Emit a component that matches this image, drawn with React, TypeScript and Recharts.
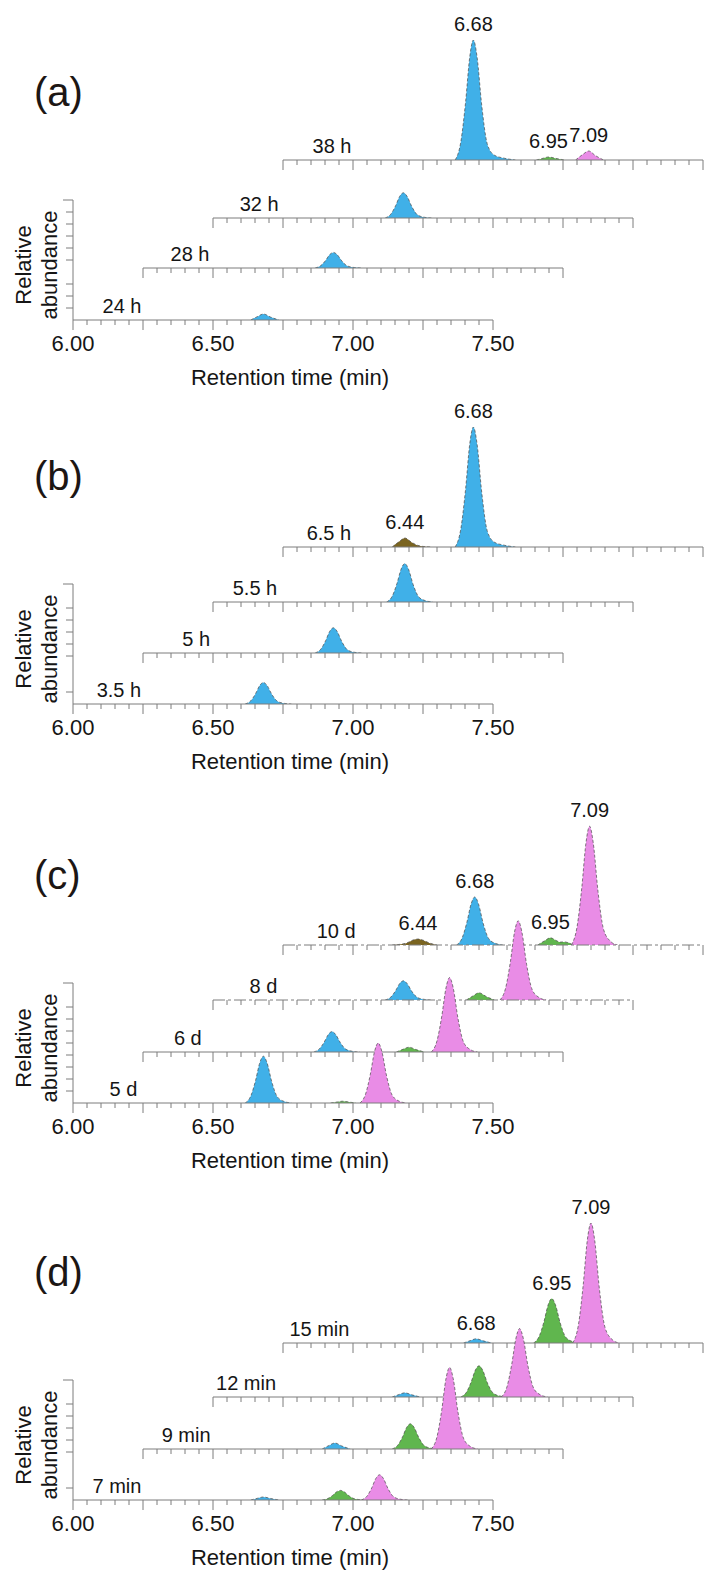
import React from 'react';
import { ComposedChart, Area, XAxis, YAxis, ReferenceDot, Label } from 'recharts';

type Pt = [number, number];

// ---------- axis ticks (retention time, min) ----------
const X_TICKS = [6.0, 6.05, 6.1, 6.15, 6.2, 6.25, 6.3, 6.35, 6.4, 6.45, 6.5, 6.55, 6.6, 6.65, 6.7, 6.75, 6.8, 6.85, 6.9, 6.95, 7.0, 7.05, 7.1, 7.15, 7.2, 7.25, 7.3, 7.35, 7.4, 7.45, 7.5];
const X_MAJOR_TICKS = [6.0, 6.25, 6.5, 6.75, 7.0, 7.25, 7.5];
const X_LABEL_TICKS = [6.0, 6.5, 7.0, 7.5];

// ---------- compounds ----------
const COMPOUNDS = ['6.44', '6.68', '6.95', '7.09'];
const COMPOUND_COLORS = ['#7a6420', '#40b0e8', '#60b64e', '#e98ce6'];

// ---------- panel (a) ----------
const A_TRACES = ['24 h', '28 h', '32 h', '38 h'];
const A_24H_BLUE: Pt[] = [[6.635, 0], [6.66, 3], [6.68, 5], [6.705, 2.5], [6.735, 0]];
const A_28H_BLUE: Pt[] = [[6.615, 0], [6.635, 2], [6.652, 6.2], [6.667, 11.2], [6.68, 13], [6.693, 11.2], [6.71, 5.9], [6.73, 1.7], [6.755, 0.4], [6.78, 0]];
const A_32H_BLUE: Pt[] = [[6.615, 0], [6.635, 3.2], [6.652, 10.1], [6.667, 18.1], [6.68, 21], [6.693, 18.1], [6.71, 9.5], [6.73, 2.7], [6.755, 0.6], [6.78, 0]];
const A_38H_BLUE: Pt[] = [[6.615, 0], [6.635, 15], [6.652, 48], [6.667, 86], [6.68, 100], [6.693, 86], [6.71, 45], [6.73, 13], [6.755, 4], [6.79, 1.5], [6.83, 0]];
const A_38H_GREEN: Pt[] = [[6.905, 0], [6.93, 1.5], [6.948, 2.5], [6.975, 1.3], [7.005, 0]];
const A_38H_PINK: Pt[] = [[7.045, 0], [7.07, 4.5], [7.092, 7.5], [7.115, 3.8], [7.145, 0]];

// ---------- panel (b) ----------
const B_TRACES = ['3.5 h', '5 h', '5.5 h', '6.5 h'];
const B_35H_BLUE: Pt[] = [[6.615, 0], [6.635, 2.7], [6.652, 8.6], [6.667, 15.5], [6.68, 18], [6.693, 15.5], [6.71, 8.1], [6.73, 2.3], [6.755, 0.5], [6.78, 0]];
const B_5H_BLUE: Pt[] = [[6.615, 0], [6.635, 3.2], [6.652, 10.1], [6.667, 18.1], [6.68, 21], [6.693, 18.1], [6.71, 9.5], [6.73, 2.7], [6.755, 0.6], [6.78, 0]];
const B_55H_BLUE: Pt[] = [[6.62, 0], [6.64, 4.8], [6.657, 15.4], [6.672, 27.5], [6.685, 32], [6.698, 27.5], [6.715, 14.4], [6.735, 4.2], [6.76, 1], [6.785, 0]];
const B_65H_BROWN: Pt[] = [[6.39, 0], [6.415, 4.5], [6.435, 7.5], [6.46, 3.8], [6.49, 0.8], [6.53, 0]];
const B_65H_BLUE: Pt[] = [[6.615, 0], [6.635, 15], [6.652, 48], [6.667, 86], [6.68, 100], [6.693, 86], [6.71, 45], [6.73, 13], [6.755, 4], [6.79, 1.5], [6.83, 0]];

// ---------- panel (c) ----------
const C_TRACES = ['5 d', '6 d', '8 d', '10 d'];
const C_5D_BLUE: Pt[] = [[6.615, 0], [6.635, 5.9], [6.652, 18.7], [6.667, 33.5], [6.68, 39], [6.693, 33.5], [6.71, 17.6], [6.73, 5.1], [6.755, 1.2], [6.78, 0]];
const C_5D_GREEN: Pt[] = [[6.92, 0], [6.945, 0.9], [6.962, 1.5], [6.985, 0.8], [7.01, 0]];
const C_5D_PINK: Pt[] = [[7.025, 0], [7.045, 7.5], [7.062, 24], [7.077, 43], [7.09, 50], [7.103, 43], [7.12, 22.5], [7.14, 6.5], [7.165, 1.5], [7.19, 0]];
const C_6D_BLUE: Pt[] = [[6.61, 0], [6.63, 2.6], [6.647, 8.2], [6.662, 14.6], [6.675, 17], [6.688, 14.6], [6.705, 7.7], [6.725, 2.2], [6.75, 0.5], [6.775, 0]];
const C_6D_GREEN: Pt[] = [[6.905, 0], [6.93, 2.4], [6.95, 4], [6.975, 2], [7.005, 0]];
const C_6D_PINK: Pt[] = [[7.03, 0], [7.05, 9.3], [7.067, 29.8], [7.082, 53.3], [7.095, 62], [7.108, 53.3], [7.125, 27.9], [7.145, 8.1], [7.17, 1.9], [7.195, 0]];
const C_8D_BLUE: Pt[] = [[6.615, 0], [6.635, 2.4], [6.652, 7.7], [6.667, 13.8], [6.68, 16], [6.693, 13.8], [6.71, 7.2], [6.73, 2.1], [6.755, 0.5], [6.78, 0]];
const C_8D_GREEN: Pt[] = [[6.905, 0], [6.93, 3.6], [6.95, 6], [6.975, 3], [7.005, 0]];
const C_8D_PINK: Pt[] = [[7.025, 0], [7.045, 9.9], [7.062, 31.7], [7.077, 56.8], [7.09, 66], [7.103, 56.8], [7.12, 29.7], [7.14, 8.6], [7.165, 2], [7.19, 0]];
const C_10D_BROWN: Pt[] = [[6.39, 0], [6.44, 1.5], [6.465, 4.2], [6.482, 5], [6.5, 4], [6.525, 1.5], [6.55, 0]];
const C_10D_BLUE: Pt[] = [[6.62, 0], [6.64, 6], [6.657, 19.2], [6.672, 34.4], [6.685, 40], [6.698, 34.4], [6.715, 18], [6.735, 5.2], [6.76, 1.2], [6.785, 0]];
const C_10D_GREEN: Pt[] = [[6.91, 0], [6.935, 3.6], [6.955, 6], [6.975, 3.8], [6.99, 2.4], [7.003, 2.6], [7.018, 2], [7.035, 0]];
const C_10D_PINK: Pt[] = [[7.03, 0], [7.05, 14.9], [7.067, 47.5], [7.082, 85.1], [7.095, 99], [7.108, 85.1], [7.125, 44.6], [7.145, 12.9], [7.17, 3], [7.195, 0]];

// ---------- panel (d) ----------
const D_TRACES = ['7 min', '9 min', '12 min', '15 min'];
const D_7_BLUE: Pt[] = [[6.635, 0], [6.66, 1.5], [6.68, 2.5], [6.705, 1.3], [6.735, 0]];
const D_7_GREEN: Pt[] = [[6.89, 0], [6.91, 1.2], [6.927, 3.8], [6.942, 6.9], [6.955, 8], [6.968, 6.9], [6.985, 3.6], [7.005, 1], [7.03, 0.2], [7.055, 0]];
const D_7_PINK: Pt[] = [[7.03, 0], [7.05, 3.2], [7.067, 10.1], [7.082, 18.1], [7.095, 21], [7.108, 18.1], [7.125, 9.5], [7.145, 2.7], [7.17, 0.6], [7.195, 0]];
const D_9_BLUE: Pt[] = [[6.64, 0], [6.665, 3], [6.685, 5], [6.71, 2.5], [6.74, 0]];
const D_9_GREEN: Pt[] = [[6.89, 0], [6.91, 3.2], [6.927, 10.1], [6.942, 18.1], [6.955, 21], [6.968, 18.1], [6.985, 9.5], [7.005, 2.7], [7.03, 0.6], [7.055, 0]];
const D_9_PINK: Pt[] = [[7.03, 0], [7.05, 10.2], [7.067, 32.6], [7.082, 58.5], [7.095, 68], [7.108, 58.5], [7.125, 30.6], [7.145, 8.8], [7.17, 2], [7.195, 0]];
const D_12_BLUE: Pt[] = [[6.64, 0], [6.665, 2.1], [6.685, 3.5], [6.71, 1.8], [6.74, 0]];
const D_12_GREEN: Pt[] = [[6.885, 0], [6.905, 3.9], [6.922, 12.5], [6.937, 22.4], [6.95, 26], [6.963, 22.4], [6.98, 11.7], [7.0, 3.4], [7.025, 0.8], [7.05, 0]];
const D_12_PINK: Pt[] = [[7.03, 0], [7.05, 8.6], [7.067, 27.4], [7.082, 49], [7.095, 57], [7.108, 49], [7.125, 25.7], [7.145, 7.4], [7.17, 1.7], [7.195, 0]];
const D_15_BLUE: Pt[] = [[6.645, 0], [6.67, 2.1], [6.69, 3.5], [6.715, 1.8], [6.745, 0]];
const D_15_GREEN: Pt[] = [[6.895, 0], [6.915, 5.6], [6.932, 17.8], [6.947, 31.8], [6.96, 37], [6.973, 31.8], [6.99, 16.7], [7.01, 4.8], [7.035, 1.1], [7.06, 0]];
const D_15_PINK: Pt[] = [[7.035, 0], [7.055, 15], [7.072, 48], [7.087, 86], [7.1, 100], [7.113, 86], [7.13, 45], [7.15, 13], [7.175, 3], [7.2, 0]];

// ---------- assembling (compound index, points, labelled) ----------
type Peak = { c: number; pts: Pt[]; labeled?: boolean };

const A_PEAKS: Peak[][] = [
  [{ c: 1, pts: A_24H_BLUE }],
  [{ c: 1, pts: A_28H_BLUE }],
  [{ c: 1, pts: A_32H_BLUE }],
  [{ c: 1, pts: A_38H_BLUE, labeled: true }, { c: 2, pts: A_38H_GREEN, labeled: true }, { c: 3, pts: A_38H_PINK, labeled: true }],
];
const B_PEAKS: Peak[][] = [
  [{ c: 1, pts: B_35H_BLUE }],
  [{ c: 1, pts: B_5H_BLUE }],
  [{ c: 1, pts: B_55H_BLUE }],
  [{ c: 0, pts: B_65H_BROWN, labeled: true }, { c: 1, pts: B_65H_BLUE, labeled: true }],
];
const C_PEAKS: Peak[][] = [
  [{ c: 1, pts: C_5D_BLUE }, { c: 2, pts: C_5D_GREEN }, { c: 3, pts: C_5D_PINK }],
  [{ c: 1, pts: C_6D_BLUE }, { c: 2, pts: C_6D_GREEN }, { c: 3, pts: C_6D_PINK }],
  [{ c: 1, pts: C_8D_BLUE }, { c: 2, pts: C_8D_GREEN }, { c: 3, pts: C_8D_PINK }],
  [{ c: 0, pts: C_10D_BROWN, labeled: true }, { c: 1, pts: C_10D_BLUE, labeled: true }, { c: 2, pts: C_10D_GREEN, labeled: true }, { c: 3, pts: C_10D_PINK, labeled: true }],
];
const D_PEAKS: Peak[][] = [
  [{ c: 1, pts: D_7_BLUE }, { c: 2, pts: D_7_GREEN }, { c: 3, pts: D_7_PINK }],
  [{ c: 1, pts: D_9_BLUE }, { c: 2, pts: D_9_GREEN }, { c: 3, pts: D_9_PINK }],
  [{ c: 1, pts: D_12_BLUE }, { c: 2, pts: D_12_GREEN }, { c: 3, pts: D_12_PINK }],
  [{ c: 1, pts: D_15_BLUE, labeled: true }, { c: 2, pts: D_15_GREEN, labeled: true }, { c: 3, pts: D_15_PINK, labeled: true }],
];

// ---------- layout (pixels / positions, not data) ----------
const FONT = '"Liberation Sans", Arial, Helvetica, sans-serif';
const PAGE_W = 705;
const X0 = 73;          // pixel of 6.00 on bottom trace
const SHIFT = 70;       // 0.25 min offset per trace
const PLOT_W = 420;     // 1.5 min
const PLOT_H = 120;
const PAD_T = 40;
const Y_W = 10;
const AXIS_COLOR = '#7d7d7d';

const PANELS = [
  { tag: '(a)', traces: A_TRACES, peaks: A_PEAKS, bottom: 320, rises: [0, 52, 102, 160], nameAt: [6.175, 6.168, 6.165, 6.175], yTicks: [10, 20, 30, 50, 60, 70, 80, 90, 100], dashed: [false, false, false, false] },
  { tag: '(b)', traces: B_TRACES, peaks: B_PEAKS, bottom: 704, rises: [0, 51, 102, 157], nameAt: [6.164, 6.19, 6.15, 6.164], yTicks: [10, 40, 50, 60, 70, 80, 100], dashed: [false, false, false, false] },
  { tag: '(c)', traces: C_TRACES, peaks: C_PEAKS, bottom: 1103, rises: [0, 51, 103, 158], nameAt: [6.18, 6.16, 6.18, 6.19], yTicks: [10, 20, 30, 40, 50, 60, 70, 80, 100], dashed: [false, false, true, true] },
  { tag: '(d)', traces: D_TRACES, peaks: D_PEAKS, bottom: 1500, rises: [0, 51, 103, 157], nameAt: [6.157, 6.154, 6.118, 6.13], yTicks: [10, 40, 50, 60, 70, 80, 100], dashed: [false, false, false, false] },
];

const near = (list: number[], v: number) => list.some((m) => Math.abs(m - v) < 1e-6);

const makeXTick = (showLabel: boolean) => (props: any) => {
  const { x, y, payload } = props;
  const v = Number(payload.value);
  const major = near(X_MAJOR_TICKS, v);
  const lab = showLabel && near(X_LABEL_TICKS, v);
  return (
    <g>
      <line x1={x} x2={x} y1={y} y2={y + (major ? 10 : 5)} stroke={AXIS_COLOR} strokeWidth={1} />
      {lab && (
        <text x={x} y={y + 31} textAnchor="middle" fontSize={22} fontFamily={FONT} fill="#151515">
          {v.toFixed(2)}
        </text>
      )}
    </g>
  );
};

const YTick = (props: any) => {
  const { x, y, payload } = props;
  const len = Number(payload.value) >= 100 ? 10 : 7;
  return <line x1={x - len} x2={x} y1={y} y2={y} stroke={AXIS_COLOR} strokeWidth={1} />;
};

const RelAbundance = (props: any) => {
  const vb = props.viewBox || { x: 63, y: 0, width: 10, height: 120 };
  const ax = vb.x + vb.width;
  const cy = vb.y + vb.height / 2 + 5;
  const x1 = ax - 50;
  const x2 = ax - 24;
  return (
    <g>
      <text x={x1} y={cy} transform={`rotate(-90 ${x1} ${cy})`} textAnchor="middle" dominantBaseline="central" fontSize={22} fontFamily={FONT} fill="#151515">Relative</text>
      <text x={x2} y={cy} transform={`rotate(-90 ${x2} ${cy})`} textAnchor="middle" dominantBaseline="central" fontSize={22} fontFamily={FONT} fill="#151515">abundance</text>
    </g>
  );
};

function TraceChart({ panel, idx }: { panel: any; idx: number }) {
  const left = X0 + SHIFT * idx;
  const base = panel.bottom - panel.rises[idx];
  const isBottom = idx === 0;
  const xAxisH = isBottom ? 75 : 16;
  const height = PAD_T + PLOT_H + xAxisH;
  const top = base - PLOT_H - PAD_T;
  const peaks: Peak[] = panel.peaks[idx];
  const dashed = panel.dashed[idx];
  return (
    <div style={{ position: 'absolute', left: 0, top, width: PAGE_W, height }}>
      <ComposedChart
        width={PAGE_W}
        height={height}
        margin={{ top: PAD_T, right: PAGE_W - left - PLOT_W, bottom: 0, left: isBottom ? left - Y_W : left }}
      >
        <XAxis
          type="number"
          dataKey="t"
          domain={[6, 7.5]}
          allowDataOverflow
          ticks={X_TICKS}
          interval={0}
          tickSize={0}
          tickMargin={0}
          tickLine={false}
          height={xAxisH}
          axisLine={{ stroke: AXIS_COLOR, strokeWidth: 1, strokeDasharray: dashed ? '12 3 3 3' : undefined }}
          tick={makeXTick(isBottom)}
        >
          {isBottom && (
            <Label value="Retention time (min)" position="insideBottom" offset={10} dx={7} fontSize={22} fontFamily={FONT} fill="#151515" />
          )}
        </XAxis>
        <YAxis
          type="number"
          domain={[0, 100]}
          allowDataOverflow
          hide={!isBottom}
          width={Y_W}
          ticks={panel.yTicks}
          interval={0}
          tickSize={0}
          tickMargin={0}
          tickLine={false}
          axisLine={{ stroke: AXIS_COLOR, strokeWidth: 1 }}
          tick={YTick}
        >
          {isBottom && <Label content={RelAbundance} />}
        </YAxis>
        {peaks.map((pk, j) => (
          <Area
            key={`pk-${j}`}
            data={pk.pts.map(([t, v]) => ({ t, v }))}
            dataKey="v"
            type="monotone"
            fill={COMPOUND_COLORS[pk.c]}
            fillOpacity={1}
            stroke="#4a4a4a"
            strokeWidth={0.7}
            strokeDasharray="3 2"
            dot={false}
            activeDot={false}
            isAnimationActive={false}
          />
        ))}
        <ReferenceDot
          x={panel.nameAt[idx]}
          y={0}
          r={1}
          fill="none"
          stroke="none"
          ifOverflow="visible"
          label={{ value: panel.traces[idx], position: 'top', offset: 6, fontSize: 20, fontFamily: FONT, fill: '#151515' }}
        />
        {peaks
          .filter((pk) => pk.labeled)
          .map((pk, j) => {
            const apex = pk.pts.reduce((a, b) => (b[1] > a[1] ? b : a));
            return (
              <ReferenceDot
                key={`lb-${j}`}
                x={apex[0]}
                y={apex[1]}
                r={1}
                fill="none"
                stroke="none"
                ifOverflow="visible"
                label={{ value: COMPOUNDS[pk.c], position: 'top', offset: 8, fontSize: 20, fontFamily: FONT, fill: '#151515' }}
              />
            );
          })}
      </ComposedChart>
    </div>
  );
}

export default function App() {
  return (
    <div style={{ position: 'absolute', left: 0, top: 0, width: PAGE_W, height: 1570, background: '#fff', fontFamily: FONT }}>
      <svg width={PAGE_W} height={1570} style={{ position: 'absolute', left: 0, top: 0 }}>
        {PANELS.map((p) => (
          <text key={p.tag} x={34} y={p.bottom - 229 + 15} fontSize={40} fontFamily={FONT} fill="#1c1614">
            {p.tag}
          </text>
        ))}
      </svg>
      {PANELS.map((p) =>
        [3, 2, 1, 0].map((i) => <TraceChart key={`${p.tag}-${i}`} panel={p} idx={i} />)
      )}
    </div>
  );
}
